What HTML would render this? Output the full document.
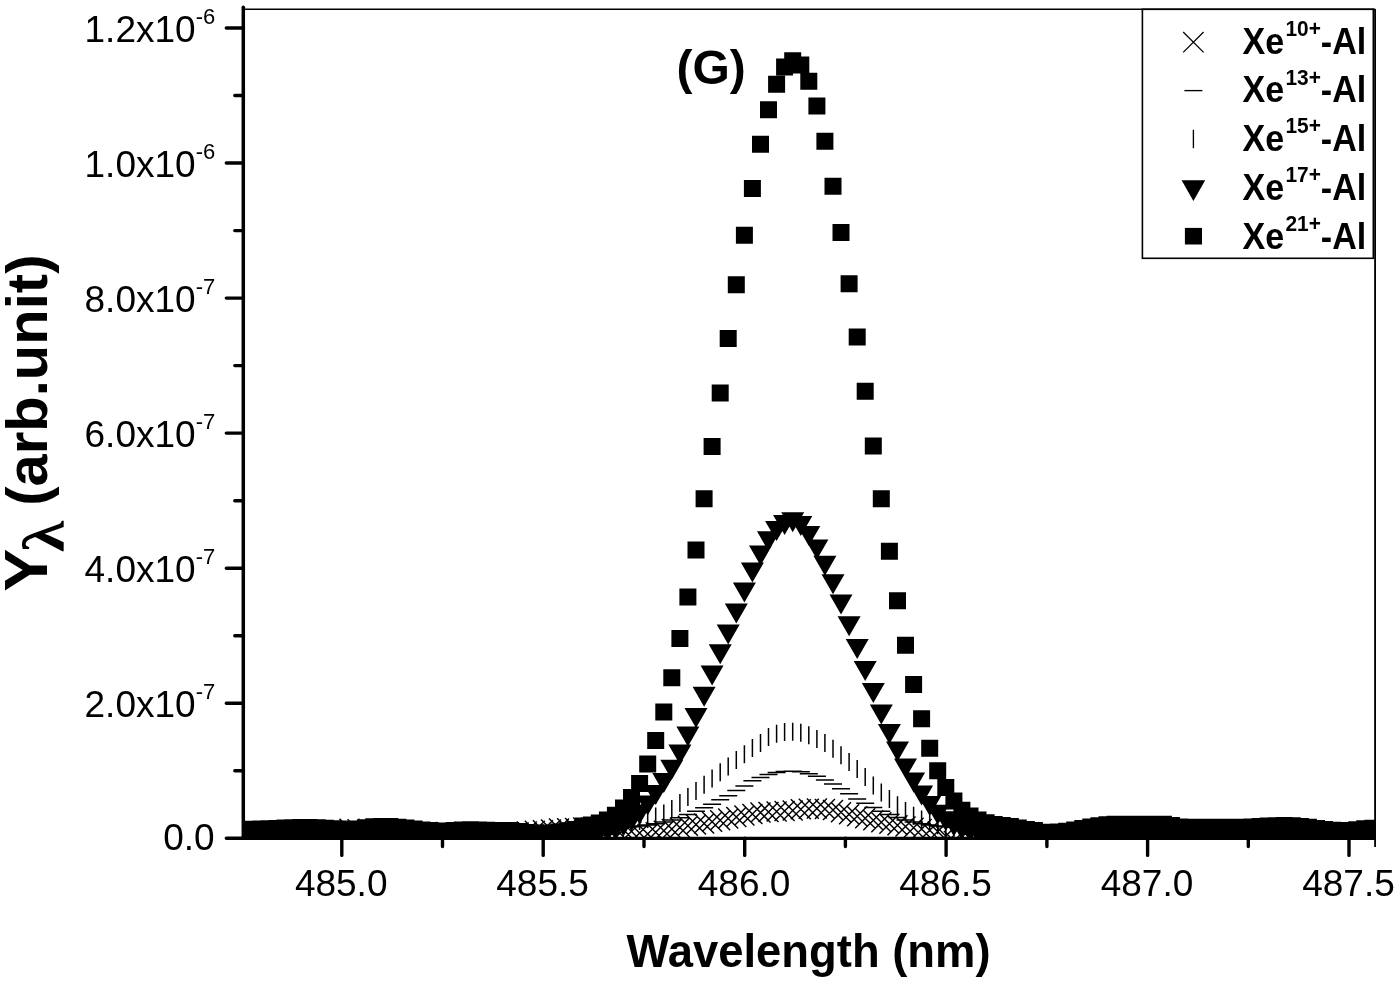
<!DOCTYPE html>
<html lang="en"><head><meta charset="utf-8"><title>Spectrum (G)</title>
<style>html,body{margin:0;padding:0;background:#fff}svg{display:block;will-change:transform}</style></head>
<body>
<svg width="1400" height="983" viewBox="0 0 1400 983">
<rect width="1400" height="983" fill="#fff"/>
<defs><clipPath id="cp"><rect x="243.3" y="9.3" width="1131.9" height="828.9"/></clipPath></defs>
<g clip-path="url(#cp)" fill="#000" stroke="none">
<path d="M234.8 824.7l20 20m0 -20l-20 20M242.8 824.7l20 20m0 -20l-20 20M250.9 824.7l20 20m0 -20l-20 20M258.9 824.7l20 20m0 -20l-20 20M267 824.7l20 20m0 -20l-20 20M275 824.7l20 20m0 -20l-20 20M283.1 824.7l20 20m0 -20l-20 20M291.2 824.7l20 20m0 -20l-20 20M299.2 824.7l20 20m0 -20l-20 20M307.3 824.7l20 20m0 -20l-20 20M315.3 824.7l20 20m0 -20l-20 20M323.4 824.7l20 20m0 -20l-20 20M331.5 824.4l20 20m0 -20l-20 20M339.5 818.7l20 20m0 -20l-20 20M347.6 819.3l20 20m0 -20l-20 20M355.6 824.7l20 20m0 -20l-20 20M363.7 824.7l20 20m0 -20l-20 20M371.7 824.7l20 20m0 -20l-20 20M379.8 824.7l20 20m0 -20l-20 20M387.9 824.7l20 20m0 -20l-20 20M395.9 824.7l20 20m0 -20l-20 20M404 824.7l20 20m0 -20l-20 20M412 824.7l20 20m0 -20l-20 20M420.1 824.7l20 20m0 -20l-20 20M428.1 824l20 20m0 -20l-20 20M436.2 822.1l20 20m0 -20l-20 20M444.3 823l20 20m0 -20l-20 20M452.3 824.7l20 20m0 -20l-20 20M460.4 824.6l20 20m0 -20l-20 20M468.4 824.6l20 20m0 -20l-20 20M476.5 824.6l20 20m0 -20l-20 20M484.6 824.5l20 20m0 -20l-20 20M492.6 824.2l20 20m0 -20l-20 20M500.7 823.4l20 20m0 -20l-20 20M508.7 822.5l20 20m0 -20l-20 20M516.8 821.4l20 20m0 -20l-20 20M524.8 820.7l20 20m0 -20l-20 20M532.9 820.3l20 20m0 -20l-20 20M541 819.4l20 20m0 -20l-20 20M549 818.6l20 20m0 -20l-20 20M557.1 818.2l20 20m0 -20l-20 20M565.1 818l20 20m0 -20l-20 20M573.2 817.5l20 20m0 -20l-20 20M581.2 817.5l20 20m0 -20l-20 20M589.3 817.5l20 20m0 -20l-20 20M597.4 818.1l20 20m0 -20l-20 20M605.4 818.7l20 20m0 -20l-20 20M613.5 819.7l20 20m0 -20l-20 20M621.5 821.4l20 20m0 -20l-20 20M629.6 823l20 20m0 -20l-20 20M637.7 823.9l20 20m0 -20l-20 20M645.7 822.3l20 20m0 -20l-20 20M653.8 820.7l20 20m0 -20l-20 20M661.8 819l20 20m0 -20l-20 20M669.9 817.4l20 20m0 -20l-20 20M677.9 815.8l20 20m0 -20l-20 20M686 814.6l20 20m0 -20l-20 20M694.1 813.4l20 20m0 -20l-20 20M702.1 811.8l20 20m0 -20l-20 20M710.2 810.2l20 20m0 -20l-20 20M718.2 808.6l20 20m0 -20l-20 20M726.3 807.1l20 20m0 -20l-20 20M734.4 805.6l20 20m0 -20l-20 20M742.4 804.1l20 20m0 -20l-20 20M750.5 802.6l20 20m0 -20l-20 20M758.5 802l20 20m0 -20l-20 20M766.6 801.5l20 20m0 -20l-20 20M774.6 801l20 20m0 -20l-20 20M782.7 800.5l20 20m0 -20l-20 20M790.8 799.3l20 20m0 -20l-20 20M798.8 798.7l20 20m0 -20l-20 20M806.9 798.6l20 20m0 -20l-20 20M814.9 799.1l20 20m0 -20l-20 20M823 800.1l20 20m0 -20l-20 20M831 802.2l20 20m0 -20l-20 20M839.1 804.3l20 20m0 -20l-20 20M847.2 806.3l20 20m0 -20l-20 20M855.2 808.3l20 20m0 -20l-20 20M863.3 810.3l20 20m0 -20l-20 20M871.3 812.3l20 20m0 -20l-20 20M879.4 813.8l20 20m0 -20l-20 20M887.5 815.2l20 20m0 -20l-20 20M895.5 816.5l20 20m0 -20l-20 20M903.6 817.8l20 20m0 -20l-20 20M911.6 819l20 20m0 -20l-20 20M919.7 820.3l20 20m0 -20l-20 20M927.7 821.5l20 20m0 -20l-20 20M935.8 826l20 20m0 -20l-20 20M943.9 831l20 20m0 -20l-20 20M951.9 836l20 20m0 -20l-20 20M960 836.4l20 20m0 -20l-20 20M968 836.8l20 20m0 -20l-20 20M976.1 837.3l20 20m0 -20l-20 20M984.2 837.7l20 20m0 -20l-20 20M992.2 837.4l20 20m0 -20l-20 20M1000.3 835.4l20 20m0 -20l-20 20M1008.3 833.4l20 20m0 -20l-20 20M1016.4 831.4l20 20m0 -20l-20 20M1024.4 829.4l20 20m0 -20l-20 20M1032.5 828l20 20m0 -20l-20 20M1040.6 828l20 20m0 -20l-20 20M1048.6 828l20 20m0 -20l-20 20M1056.7 828l20 20m0 -20l-20 20M1064.7 828l20 20m0 -20l-20 20M1072.8 828l20 20m0 -20l-20 20M1080.8 828l20 20m0 -20l-20 20M1088.9 828l20 20m0 -20l-20 20M1097 828l20 20m0 -20l-20 20M1105 828l20 20m0 -20l-20 20M1113.1 828l20 20m0 -20l-20 20M1121.1 828l20 20m0 -20l-20 20M1129.2 828l20 20m0 -20l-20 20M1137.3 828l20 20m0 -20l-20 20M1145.3 828l20 20m0 -20l-20 20M1153.4 828l20 20m0 -20l-20 20M1161.4 828l20 20m0 -20l-20 20M1169.5 828l20 20m0 -20l-20 20M1177.5 828l20 20m0 -20l-20 20M1185.6 828l20 20m0 -20l-20 20M1193.7 828l20 20m0 -20l-20 20M1201.7 828l20 20m0 -20l-20 20M1209.8 828l20 20m0 -20l-20 20M1217.8 828l20 20m0 -20l-20 20M1225.9 828l20 20m0 -20l-20 20M1233.9 828l20 20m0 -20l-20 20M1242 828l20 20m0 -20l-20 20M1250.1 828l20 20m0 -20l-20 20M1258.1 828l20 20m0 -20l-20 20M1266.2 828l20 20m0 -20l-20 20M1274.2 828l20 20m0 -20l-20 20M1282.3 828l20 20m0 -20l-20 20M1290.4 828l20 20m0 -20l-20 20M1298.4 828l20 20m0 -20l-20 20M1306.5 828l20 20m0 -20l-20 20M1314.5 828l20 20m0 -20l-20 20M1322.6 828l20 20m0 -20l-20 20M1330.6 828l20 20m0 -20l-20 20M1338.7 828l20 20m0 -20l-20 20M1346.8 828l20 20m0 -20l-20 20M1354.8 828l20 20m0 -20l-20 20M1362.9 828l20 20m0 -20l-20 20" fill="none" stroke="#000" stroke-width="1.45"/>
<path d="M235.8 828h18M243.8 828h18M251.9 828h18M259.9 828h18M268 828h18M276 828h18M284.1 828h18M292.2 828h18M300.2 828h18M308.3 828h18M316.3 828h18M324.4 828h18M332.5 828h18M340.5 828h18M348.6 828h18M356.6 828h18M364.7 828h18M372.7 828h18M380.8 828h18M388.9 828h18M396.9 828h18M405 828h18M413 828h18M421.1 828h18M429.1 828h18M437.2 828h18M445.3 828h18M453.3 828h18M461.4 828h18M469.4 828h18M477.5 828h18M485.6 828h18M493.6 828h18M501.7 828h18M509.7 828h18M517.8 828h18M525.8 828h18M533.9 828h18M542 828h18M550 828h18M558.1 828h18M566.1 828h18M574.2 828h18M582.2 828h18M590.3 828h18M598.4 828h18M606.4 828h18M614.5 827.4h18M622.5 826.8h18M630.6 826h18M638.7 825h18M646.7 823.7h18M654.8 822h18M662.8 820h18M670.9 817.7h18M678.9 814.5h18M687 811.2h18M695.1 807.8h18M703.1 804.2h18M711.2 799.8h18M719.2 795.8h18M727.3 790.5h18M735.4 786h18M743.4 780.8h18M751.5 777.5h18M759.5 774.5h18M767.6 772.5h18M775.6 771.4h18M783.7 771.1h18M791.8 771.8h18M799.8 773.8h18M807.9 776.2h18M815.9 780h18M824 784h18M832 788.8h18M840.1 793.8h18M848.2 799h18M856.2 803.2h18M864.3 807.5h18M872.3 811.3h18M880.4 814.5h18M888.5 817.5h18M896.5 820h18M904.6 822h18M912.6 823.7h18M920.7 825h18M928.7 826h18M936.8 826.8h18M944.9 827.4h18M952.9 828h18M961 828h18M969 828h18M977.1 828h18M985.2 828h18M993.2 828h18M1001.3 828h18M1009.3 828h18M1017.4 828h18M1025.4 828h18M1033.5 828h18M1041.6 828h18M1049.6 828h18M1057.7 828h18M1065.7 828h18M1073.8 828h18M1081.8 828h18M1089.9 828h18M1098 828h18M1106 828h18M1114.1 828h18M1122.1 828h18M1130.2 828h18M1138.3 828h18M1146.3 828h18M1154.4 828h18M1162.4 828h18M1170.5 828h18M1178.5 828h18M1186.6 828h18M1194.7 828h18M1202.7 828h18M1210.8 828h18M1218.8 828h18M1226.9 828h18M1234.9 828h18M1243 828h18M1251.1 828h18M1259.1 828h18M1267.2 828h18M1275.2 828h18M1283.3 828h18M1291.4 828h18M1299.4 828h18M1307.5 828h18M1315.5 828h18M1323.6 828h18M1331.6 828h18M1339.7 828h18M1347.8 828h18M1355.8 828h18M1363.9 828h18" fill="none" stroke="#000" stroke-width="1.4"/>
<path d="M244.8 824v18M252.8 824v18M260.9 824v18M268.9 824v18M277 824v18M285 824v18M293.1 824v18M301.2 824v18M309.2 824v18M317.3 824v18M325.3 824v18M333.4 824v18M341.5 824v18M349.5 824v18M357.6 824v18M365.6 824v18M373.7 824v18M381.7 824v18M389.8 824v18M397.9 824v18M405.9 824v18M414 824v18M422 824v18M430.1 824v18M438.1 824v18M446.2 824v18M454.3 824v18M462.3 824v18M470.4 824v18M478.4 824v18M486.5 824v18M494.6 824v18M502.6 824v18M510.7 824v18M518.7 824v18M526.8 824v18M534.8 824v18M542.9 824v18M551 824v18M559 824v18M567.1 823.5v18M575.1 822v18M583.2 820.5v18M591.2 819.5v18M599.3 818.6v18M607.4 817.7v18M615.4 816.6v18M623.5 815.3v18M631.5 813.8v18M639.6 812v18M647.7 810v18M655.7 807.5v18M663.8 804.5v18M671.8 800v18M679.9 794.1v18M687.9 788v18M696 782v18M704.1 775.7v18M712.1 769.6v18M720.2 763.3v18M728.2 757.5v18M736.3 751.1v18M744.4 745.2v18M752.4 739.1v18M760.5 733.9v18M768.5 728v18M776.6 724.8v18M784.6 723.1v18M792.7 722.8v18M800.8 723.7v18M808.8 726.3v18M816.9 730v18M824.9 734v18M833 739.7v18M841 746.2v18M849.1 753.1v18M857.2 760v18M865.2 768v18M873.3 776.6v18M881.3 783.6v18M889.4 790v18M897.5 796.2v18M905.5 802v18M913.6 806.8v18M921.6 810.4v18M929.7 813.8v18M937.7 816.3v18M945.8 818v18M953.9 819v18M961.9 820.5v18M970 822v18M978 823.3v18M986.1 824v18M994.2 824v18M1002.2 824v18M1010.3 824v18M1018.3 824v18M1026.4 824v18M1034.4 824v18M1042.5 824v18M1050.6 824v18M1058.6 824v18M1066.7 824v18M1074.7 824v18M1082.8 824v18M1090.8 824v18M1098.9 824v18M1107 824v18M1115 824v18M1123.1 824v18M1131.1 824v18M1139.2 824v18M1147.3 824v18M1155.3 824v18M1163.4 824v18M1171.4 824v18M1179.5 824v18M1187.5 824v18M1195.6 824v18M1203.7 824v18M1211.7 824v18M1219.8 824v18M1227.8 824v18M1235.9 824v18M1243.9 824v18M1252 824v18M1260.1 824v18M1268.1 824v18M1276.2 824v18M1284.2 824v18M1292.3 824v18M1300.4 824v18M1308.4 824v18M1316.5 824v18M1324.5 824v18M1332.6 824v18M1340.6 824v18M1348.7 824v18M1356.8 824v18M1364.8 824v18M1372.9 824v18" fill="none" stroke="#000" stroke-width="1.5"/>
<path d="M233.3 824.6h23l-11.5 20zM241.3 824.6h23l-11.5 20zM249.4 824.6h23l-11.5 20zM257.4 824.6h23l-11.5 20zM265.5 824.6h23l-11.5 20zM273.5 824.6h23l-11.5 20zM281.6 824.6h23l-11.5 20zM289.7 824.6h23l-11.5 20zM297.7 824.6h23l-11.5 20zM305.8 824.6h23l-11.5 20zM313.8 824.6h23l-11.5 20zM321.9 824.6h23l-11.5 20zM330 824.6h23l-11.5 20zM338 824.6h23l-11.5 20zM346.1 824.6h23l-11.5 20zM354.1 824.6h23l-11.5 20zM362.2 824.6h23l-11.5 20zM370.2 824.6h23l-11.5 20zM378.3 824.6h23l-11.5 20zM386.4 824.6h23l-11.5 20zM394.4 824.6h23l-11.5 20zM402.5 824.6h23l-11.5 20zM410.5 824.6h23l-11.5 20zM418.6 824.6h23l-11.5 20zM426.6 824.6h23l-11.5 20zM434.7 824.6h23l-11.5 20zM442.8 824.6h23l-11.5 20zM450.8 824.6h23l-11.5 20zM458.9 824.6h23l-11.5 20zM466.9 824.6h23l-11.5 20zM475 824.6h23l-11.5 20zM483.1 824.6h23l-11.5 20zM491.1 824.6h23l-11.5 20zM499.2 824.6h23l-11.5 20zM507.2 824.6h23l-11.5 20zM515.3 824.6h23l-11.5 20zM523.3 824.6h23l-11.5 20zM531.4 824.6h23l-11.5 20zM539.5 824.6h23l-11.5 20zM547.5 824.6h23l-11.5 20zM555.6 824.6h23l-11.5 20zM563.6 824.6h23l-11.5 20zM571.7 824.6h23l-11.5 20zM579.8 824.6h23l-11.5 20zM587.8 823.6h23l-11.5 20zM595.9 822.3h23l-11.5 20zM603.9 820h23l-11.5 20zM612 816.5h23l-11.5 20zM620 811.3h23l-11.5 20zM628.1 804.5h23l-11.5 20zM636.2 795.6h23l-11.5 20zM644.2 785.1h23l-11.5 20zM652.3 773h23l-11.5 20zM660.3 759.8h23l-11.5 20zM668.4 744.6h23l-11.5 20zM676.4 726.4h23l-11.5 20zM684.5 707.9h23l-11.5 20zM692.6 686.7h23l-11.5 20zM700.6 665.4h23l-11.5 20zM708.7 644.2h23l-11.5 20zM716.7 624.4h23l-11.5 20zM724.8 603.5h23l-11.5 20zM732.9 582.4h23l-11.5 20zM740.9 562.6h23l-11.5 20zM749 545.5h23l-11.5 20zM757 531.3h23l-11.5 20zM765.1 521.1h23l-11.5 20zM773.1 515h23l-11.5 20zM781.2 512.2h23l-11.5 20zM789.3 516h23l-11.5 20zM797.3 526h23l-11.5 20zM805.4 539.4h23l-11.5 20zM813.4 555.7h23l-11.5 20zM821.5 574.3h23l-11.5 20zM829.5 594.6h23l-11.5 20zM837.6 616.3h23l-11.5 20zM845.7 638.9h23l-11.5 20zM853.7 661h23l-11.5 20zM861.8 683h23l-11.5 20zM869.8 704.4h23l-11.5 20zM877.9 723.9h23l-11.5 20zM886 741.6h23l-11.5 20zM894 758.5h23l-11.5 20zM902.1 772.6h23l-11.5 20zM910.1 785.6h23l-11.5 20zM918.2 796h23l-11.5 20zM926.2 804.7h23l-11.5 20zM934.3 811.3h23l-11.5 20zM942.4 816.5h23l-11.5 20zM950.4 820h23l-11.5 20zM958.5 822.3h23l-11.5 20zM966.5 823.6h23l-11.5 20zM974.6 824.3h23l-11.5 20zM982.7 824.6h23l-11.5 20zM990.7 824.6h23l-11.5 20zM998.8 824.6h23l-11.5 20zM1006.8 824.6h23l-11.5 20zM1014.9 824.6h23l-11.5 20zM1022.9 824.6h23l-11.5 20zM1031 824.6h23l-11.5 20zM1039.1 824.6h23l-11.5 20zM1047.1 824.6h23l-11.5 20zM1055.2 824.6h23l-11.5 20zM1063.2 824.6h23l-11.5 20zM1071.3 824.6h23l-11.5 20zM1079.3 824.6h23l-11.5 20zM1087.4 824.6h23l-11.5 20zM1095.5 824.6h23l-11.5 20zM1103.5 824.6h23l-11.5 20zM1111.6 824.6h23l-11.5 20zM1119.6 824.6h23l-11.5 20zM1127.7 824.6h23l-11.5 20zM1135.8 824.6h23l-11.5 20zM1143.8 824.6h23l-11.5 20zM1151.9 824.6h23l-11.5 20zM1159.9 824.6h23l-11.5 20zM1168 824.6h23l-11.5 20zM1176 824.6h23l-11.5 20zM1184.1 824.6h23l-11.5 20zM1192.2 824.6h23l-11.5 20zM1200.2 824.6h23l-11.5 20zM1208.3 824.6h23l-11.5 20zM1216.3 824.6h23l-11.5 20zM1224.4 824.6h23l-11.5 20zM1232.4 824.6h23l-11.5 20zM1240.5 824.6h23l-11.5 20zM1248.6 824.6h23l-11.5 20zM1256.6 824.6h23l-11.5 20zM1264.7 824.6h23l-11.5 20zM1272.7 824.6h23l-11.5 20zM1280.8 824.6h23l-11.5 20zM1288.9 824.6h23l-11.5 20zM1296.9 824.6h23l-11.5 20zM1305 824.6h23l-11.5 20zM1313 824.6h23l-11.5 20zM1321.1 824.6h23l-11.5 20zM1329.1 824.6h23l-11.5 20zM1337.2 824.6h23l-11.5 20zM1345.3 824.6h23l-11.5 20zM1353.3 824.6h23l-11.5 20zM1361.4 824.6h23l-11.5 20z"/>
<path d="M236.3 820.8h17v17h-17zM244.3 820.7h17v17h-17zM252.4 820.5h17v17h-17zM260.4 820.2h17v17h-17zM268.5 819.9h17v17h-17zM276.5 819.5h17v17h-17zM284.6 819.3h17v17h-17zM292.7 819.1h17v17h-17zM300.7 819.1h17v17h-17zM308.8 819.3h17v17h-17zM316.8 819.8h17v17h-17zM324.9 820.2h17v17h-17zM333 820.6h17v17h-17zM341 820.8h17v17h-17zM349.1 820.4h17v17h-17zM357.1 819.3h17v17h-17zM365.2 818.3h17v17h-17zM373.2 817.9h17v17h-17zM381.3 818.1h17v17h-17zM389.4 818.7h17v17h-17zM397.4 819.6h17v17h-17zM405.5 820.6h17v17h-17zM413.5 821.5h17v17h-17zM421.6 822.1h17v17h-17zM429.6 822.5h17v17h-17zM437.7 822.4h17v17h-17zM445.8 822.1h17v17h-17zM453.8 821.6h17v17h-17zM461.9 821.3h17v17h-17zM469.9 821.4h17v17h-17zM478 821.8h17v17h-17zM486.1 822.2h17v17h-17zM494.1 822h17v17h-17zM502.2 822.1h17v17h-17zM510.2 823h17v17h-17zM518.3 824h17v17h-17zM526.3 825.3h17v17h-17zM534.4 825.3h17v17h-17zM542.5 825h17v17h-17zM550.5 823.6h17v17h-17zM558.6 822.3h17v17h-17zM566.6 821h17v17h-17zM574.7 817.4h17v17h-17zM582.8 816.5h17v17h-17zM590.8 814.6h17v17h-17zM598.9 811.4h17v17h-17zM606.9 806.7h17v17h-17zM615 799.4h17v17h-17zM623 789h17v17h-17zM631.1 775.1h17v17h-17zM639.2 755.5h17v17h-17zM647.2 732h17v17h-17zM655.3 703.4h17v17h-17zM663.3 669.2h17v17h-17zM671.4 630h17v17h-17zM679.4 588.4h17v17h-17zM687.5 541.4h17v17h-17zM695.6 490.3h17v17h-17zM703.6 438.1h17v17h-17zM711.7 384.5h17v17h-17zM719.7 329.9h17v17h-17zM727.8 276.3h17v17h-17zM735.9 226.8h17v17h-17zM743.9 180.1h17v17h-17zM752 135.8h17v17h-17zM760 101.3h17v17h-17zM768.1 75.8h17v17h-17zM776.1 58.6h17v17h-17zM784.2 52.2h17v17h-17zM792.3 56.5h17v17h-17zM800.3 72.8h17v17h-17zM808.4 97.6h17v17h-17zM816.4 132.8h17v17h-17zM824.5 177.7h17v17h-17zM832.5 224.1h17v17h-17zM840.6 275.2h17v17h-17zM848.7 328.5h17v17h-17zM856.7 382.8h17v17h-17zM864.8 437.4h17v17h-17zM872.8 490.3h17v17h-17zM880.9 542.8h17v17h-17zM889 592.3h17v17h-17zM897 636.8h17v17h-17zM905.1 676h17v17h-17zM913.1 710.2h17v17h-17zM921.2 739.8h17v17h-17zM929.2 762.2h17v17h-17zM937.3 779h17v17h-17zM945.4 792.5h17v17h-17zM953.4 801.8h17v17h-17zM961.5 807.5h17v17h-17zM969.5 811.6h17v17h-17zM977.6 814.2h17v17h-17zM985.7 815.9h17v17h-17zM993.7 817h17v17h-17zM1001.8 818.1h17v17h-17zM1009.8 819.5h17v17h-17zM1017.9 820.9h17v17h-17zM1025.9 822.1h17v17h-17zM1034 823.8h17v17h-17zM1042.1 823.8h17v17h-17zM1050.1 823.6h17v17h-17zM1058.2 822.8h17v17h-17zM1066.2 821.6h17v17h-17zM1074.3 820.1h17v17h-17zM1082.3 818.6h17v17h-17zM1090.4 817.3h17v17h-17zM1098.5 816.3h17v17h-17zM1106.5 815.8h17v17h-17zM1114.6 815.8h17v17h-17zM1122.6 815.8h17v17h-17zM1130.7 815.8h17v17h-17zM1138.8 815.8h17v17h-17zM1146.8 815.8h17v17h-17zM1154.9 815.8h17v17h-17zM1162.9 816.9h17v17h-17zM1171 818.6h17v17h-17zM1179 818.8h17v17h-17zM1187.1 818.8h17v17h-17zM1195.2 818.8h17v17h-17zM1203.2 818.8h17v17h-17zM1211.3 818.8h17v17h-17zM1219.3 818.8h17v17h-17zM1227.4 818.8h17v17h-17zM1235.4 818.7h17v17h-17zM1243.5 818.4h17v17h-17zM1251.6 818h17v17h-17zM1259.6 817.5h17v17h-17zM1267.7 817.2h17v17h-17zM1275.7 817.1h17v17h-17zM1283.8 817.3h17v17h-17zM1291.9 817.9h17v17h-17zM1299.9 818.8h17v17h-17zM1308 819.9h17v17h-17zM1316 820.9h17v17h-17zM1324.1 821.7h17v17h-17zM1332.1 822.1h17v17h-17zM1340.2 822h17v17h-17zM1348.3 821.2h17v17h-17zM1356.3 820.3h17v17h-17zM1364.4 819.8h17v17h-17z"/>
</g>
<g fill="none" stroke="#000" stroke-linecap="round">
<path d="M243.3 9.3H1375.2" stroke-width="1.6" stroke-linecap="butt"/>
<path d="M1375.2 9.3V847" stroke-width="1.6" stroke-linecap="butt"/>
<path d="M243.3 7.3V838.3" stroke-width="3.5"/>
<path d="M241.7 838.3H1375.2" stroke-width="3.2" stroke-linecap="butt"/>
<path d="M226.3 838.3H243.3M234.8 770.8H243.3M226.3 703.2H243.3M234.8 635.7H243.3M226.3 568.2H243.3M234.8 500.7H243.3M226.3 433.1H243.3M234.8 365.6H243.3M226.3 298.1H243.3M234.8 230.6H243.3M226.3 163H243.3M234.8 95.5H243.3M226.3 28H243.3M341.8 838.3V855.4M442.5 838.3V846.6M543.2 838.3V855.4M644 838.3V846.6M744.7 838.3V855.4M845.4 838.3V846.6M946.1 838.3V855.4M1046.9 838.3V846.6M1147.6 838.3V855.4M1248.3 838.3V846.6M1349 838.3V855.4" stroke-width="3.4"/>
</g>
<g font-family="'Liberation Sans', Arial, sans-serif" font-size="37" fill="#000">
<text x="214.6" y="850.3" text-anchor="end">0.0</text>
<text x="215.2" y="717.4" text-anchor="end">2.0x10<tspan dy="-18" font-size="22">-7</tspan></text>
<text x="215.2" y="582.3" text-anchor="end">4.0x10<tspan dy="-18" font-size="22">-7</tspan></text>
<text x="215.2" y="447.2" text-anchor="end">6.0x10<tspan dy="-18" font-size="22">-7</tspan></text>
<text x="215.2" y="312.2" text-anchor="end">8.0x10<tspan dy="-18" font-size="22">-7</tspan></text>
<text x="215.2" y="177.1" text-anchor="end">1.0x10<tspan dy="-18" font-size="22">-6</tspan></text>
<text x="215.2" y="42.1" text-anchor="end">1.2x10<tspan dy="-18" font-size="22">-6</tspan></text>
<text x="341.2" y="896.3" text-anchor="middle">485.0</text>
<text x="542.6" y="896.3" text-anchor="middle">485.5</text>
<text x="744.1" y="896.3" text-anchor="middle">486.0</text>
<text x="945.5" y="896.3" text-anchor="middle">486.5</text>
<text x="1147" y="896.3" text-anchor="middle">487.0</text>
<text x="1348.5" y="896.3" text-anchor="middle">487.5</text>
</g>
<g font-family="'Liberation Sans', Arial, sans-serif" font-weight="bold" fill="#000">
<text x="808.6" y="967" font-size="45.4" text-anchor="middle">Wavelength (nm)</text>
<text x="676.5" y="83.8" font-size="48">(G)</text>
<g transform="translate(47.4 592) rotate(-90)">
<text x="0.6" y="0" font-size="60.5" textLength="42.9" lengthAdjust="spacingAndGlyphs">Y</text>
<text x="40" y="16.6" font-family="'Liberation Serif', 'DejaVu Serif', serif" font-size="59" textLength="31" lengthAdjust="spacingAndGlyphs">λ</text>
<text x="86.2" y="0" font-size="58">(arb.unit)</text>
</g>
</g>
<rect x="1142.4" y="9.3" width="230.9" height="249" fill="#fff" stroke="#000" stroke-width="1.6"/>
<path d="M1375.2 9.3V847" stroke="#000" stroke-width="1.6" fill="none"/>
<path d="M1183.2 32l20.4 20.4m0 -20.4l-20.4 20.4" fill="none" stroke="#000" stroke-width="1.25"/>
<path d="M1184.4 90.6h18" fill="none" stroke="#000" stroke-width="1.35"/>
<path d="M1193.4 129.7v18.5" fill="none" stroke="#000" stroke-width="1.35"/>
<path d="M1181.6 180.3h23.6l-11.8 20.6z" fill="#000"/>
<path d="M1184.9 227.9h17.1v16.6h-17.1z" fill="#000"/>
<g font-family="'Liberation Sans', Arial, sans-serif" font-weight="bold" font-size="34.1" fill="#000">
<text transform="translate(1242.5 53.5) scale(1 1.058)">Xe<tspan dx="1.2" dy="-16.7" font-size="20.9">10+</tspan><tspan dy="16.7">-Al</tspan></text>
<text transform="translate(1242.5 102.3) scale(1 1.058)">Xe<tspan dx="1.2" dy="-16.7" font-size="20.9">13+</tspan><tspan dy="16.7">-Al</tspan></text>
<text transform="translate(1242.5 151.1) scale(1 1.058)">Xe<tspan dx="1.2" dy="-16.7" font-size="20.9">15+</tspan><tspan dy="16.7">-Al</tspan></text>
<text transform="translate(1242.5 199.9) scale(1 1.058)">Xe<tspan dx="1.2" dy="-16.7" font-size="20.9">17+</tspan><tspan dy="16.7">-Al</tspan></text>
<text transform="translate(1242.5 248.7) scale(1 1.058)">Xe<tspan dx="1.2" dy="-16.7" font-size="20.9">21+</tspan><tspan dy="16.7">-Al</tspan></text>
</g>
</svg>
</body></html>
